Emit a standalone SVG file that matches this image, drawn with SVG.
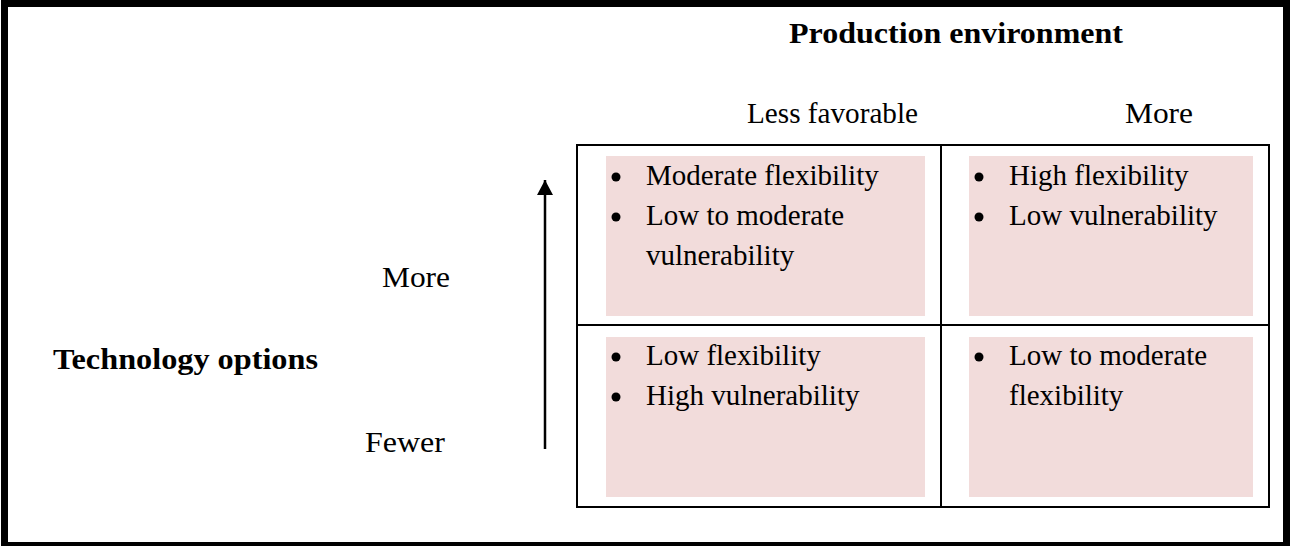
<svg xmlns="http://www.w3.org/2000/svg" width="1290" height="546" viewBox="0 0 1290 546">
  <style>
    .lbl { font-family: "Liberation Serif", "Times New Roman", serif; font-size: 30px; fill: #000; }
    .bold { font-weight: bold; }
    .cell-text { font-family: "Liberation Serif", "Times New Roman", serif; font-size: 29px; fill: #000; }
    .cell-bg { fill: #F2DCDB; }
    .grid { fill: none; stroke: #000; stroke-width: 2; }
    .bullet { fill: #000; }
  </style>
  <defs>
    <marker id="arrowHead" markerWidth="16" markerHeight="16" refX="15" refY="8" orient="auto" markerUnits="userSpaceOnUse">
      <path d="M0,0 L15,8 L0,16 Z" fill="#000"/>
    </marker>
  </defs>

  <rect x="0" y="0" width="1290" height="546" fill="#fff"/>
  <!-- outer frame -->
  <rect x="4.5" y="3.5" width="1282" height="542" fill="none" stroke="#000" stroke-width="7"/>

  <!-- axis titles -->
  <g id="title-production">
    <text class="lbl bold" x="789" y="43" textLength="334" lengthAdjust="spacingAndGlyphs">Production environment</text>
  </g>
  <g id="label-less-favorable">
    <text class="lbl" x="747" y="123" textLength="171" lengthAdjust="spacingAndGlyphs">Less favorable</text>
  </g>
  <g id="label-more-top">
    <text class="lbl" x="1125" y="123" textLength="68" lengthAdjust="spacingAndGlyphs">More</text>
  </g>
  <g id="title-technology">
    <text class="lbl bold" x="53" y="369" textLength="265" lengthAdjust="spacingAndGlyphs">Technology options</text>
  </g>
  <g id="label-more-left">
    <text class="lbl" x="382" y="287" textLength="68" lengthAdjust="spacingAndGlyphs">More</text>
  </g>
  <g id="label-fewer">
    <text class="lbl" x="365" y="452" textLength="80" lengthAdjust="spacingAndGlyphs">Fewer</text>
  </g>

  <!-- vertical axis arrow -->
  <g id="connectors">
    <line x1="545" y1="449" x2="545" y2="180" stroke="#000" stroke-width="2.5" marker-end="url(#arrowHead)"/>
  </g>

  <!-- 2x2 grid -->
  <g id="grid">
    <rect class="grid" x="577" y="145" width="692" height="362"/>
    <line class="grid" x1="941" y1="145" x2="941" y2="507"/>
    <line class="grid" x1="577" y1="325" x2="1269" y2="325"/>
  </g>

  <g id="cell-top-left">
    <rect class="cell-bg" x="606" y="156" width="319" height="160"/>
    <circle class="bullet" cx="616" cy="177" r="4.5"/>
    <text class="cell-text" x="646" y="185">Moderate flexibility</text>
    <circle class="bullet" cx="616" cy="217" r="4.5"/>
    <text class="cell-text" x="646" y="225">Low to moderate</text>
    <text class="cell-text" x="646" y="265">vulnerability</text>
  </g>

  <g id="cell-top-right">
    <rect class="cell-bg" x="969" y="156" width="284" height="160"/>
    <circle class="bullet" cx="979" cy="177" r="4.5"/>
    <text class="cell-text" x="1009" y="185">High flexibility</text>
    <circle class="bullet" cx="979" cy="217" r="4.5"/>
    <text class="cell-text" x="1009" y="225">Low vulnerability</text>
  </g>

  <g id="cell-bottom-left">
    <rect class="cell-bg" x="606" y="337" width="319" height="160"/>
    <circle class="bullet" cx="616" cy="357" r="4.5"/>
    <text class="cell-text" x="646" y="365">Low flexibility</text>
    <circle class="bullet" cx="616" cy="397" r="4.5"/>
    <text class="cell-text" x="646" y="405">High vulnerability</text>
  </g>

  <g id="cell-bottom-right">
    <rect class="cell-bg" x="969" y="337" width="284" height="160"/>
    <circle class="bullet" cx="979" cy="357" r="4.5"/>
    <text class="cell-text" x="1009" y="365">Low to moderate</text>
    <text class="cell-text" x="1009" y="405">flexibility</text>
  </g>
</svg>
